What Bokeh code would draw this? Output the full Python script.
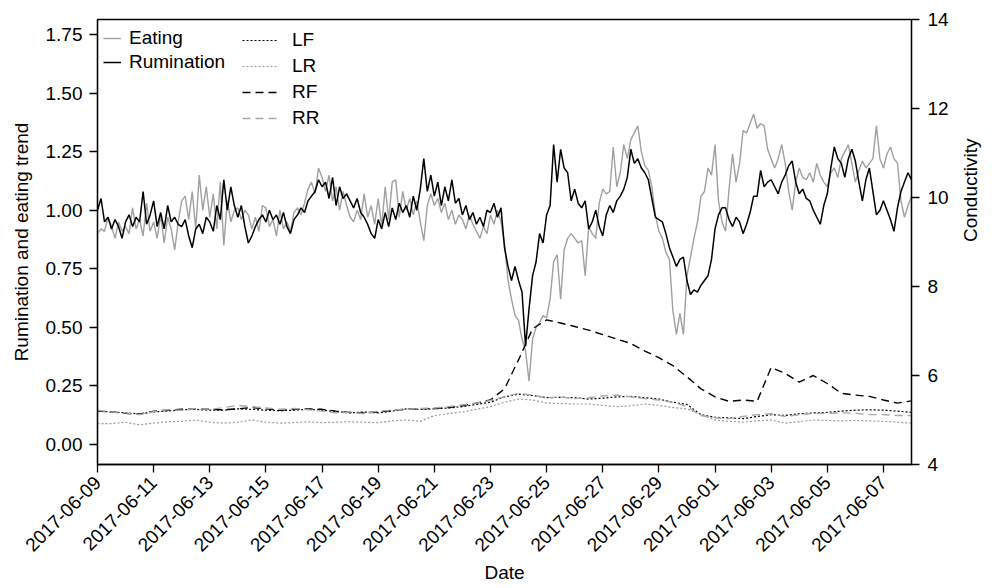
import math
import numpy as np
from bokeh.plotting import figure
from bokeh.models import (Range1d, LinearAxis, FixedTicker, Legend, LegendItem,
                          PrintfTickFormatter)
from bokeh.embed import file_html
from bokeh.resources import INLINE

FONT = "Liberation Sans"
FS = "19px"

# x axis: days after 2017-06-09, labelled every second day
tick_days = [0, 2, 4, 6, 8, 10, 12, 14, 16, 18, 20, 22, 24, 26, 28]
tick_labels = ["2017-06-09", "2017-06-11", "2017-06-13", "2017-06-15", "2017-06-17",
               "2017-06-19", "2017-06-21", "2017-06-23", "2017-06-25", "2017-06-27",
               "2017-06-29", "2017-06-01", "2017-06-03", "2017-06-05", "2017-06-07"]

# rumination / eating trends, 3-hourly samples (8 per day), left axis
rumination = [
    1.00, 1.05, 0.95, 0.97, 0.92, 0.96, 0.93, 0.88,
    0.95, 0.98, 0.93, 0.97, 0.95, 1.08, 0.94, 0.98,
    1.04, 0.93, 0.99, 0.92, 1.02, 0.95, 0.97, 0.94,
    0.93, 0.96, 0.89, 0.84, 0.92, 0.94, 0.90, 0.97,
    0.95, 0.91, 1.02, 0.96, 1.13, 1.00, 1.10, 1.02,
    0.97, 1.02, 0.93, 0.86, 0.89, 0.93, 0.96, 0.98,
    0.95, 1.00, 0.96, 0.98, 0.94, 0.99, 0.93, 0.90,
    0.96, 0.98, 1.01, 0.99, 1.04, 1.06, 1.08, 1.13,
    1.10, 1.12, 1.05, 1.14, 1.02, 1.10, 1.05, 1.07,
    1.04, 1.01, 1.05, 0.99, 0.97, 0.94, 0.90, 0.88,
    0.96, 0.92, 0.99, 0.93, 1.01, 0.96, 1.03, 0.99,
    1.02, 0.97, 1.06, 1.00, 1.09, 1.22, 1.08, 1.15,
    1.06, 1.12, 1.02, 1.10, 1.04, 1.13, 1.03, 1.05,
    0.98, 1.02, 0.96, 0.99, 0.94, 0.97, 0.93, 1.00,
    0.99, 1.03, 0.97, 1.01, 0.84, 0.76, 0.70, 0.76,
    0.70, 0.65, 0.42, 0.58, 0.72, 0.78, 0.90, 0.86,
    0.98, 1.02, 1.28, 1.12, 1.26, 1.18, 1.16, 1.04,
    1.09, 1.03, 1.01, 1.04, 0.92, 0.95, 1.00, 0.93,
    0.89, 0.98, 1.02, 0.99, 1.04, 1.06, 1.09, 1.14,
    1.26, 1.20, 1.22, 1.18, 1.16, 1.13, 1.05, 0.97,
    0.96, 0.95, 0.90, 0.84, 0.80, 0.76, 0.79, 0.80,
    0.70, 0.64, 0.66, 0.65, 0.68, 0.70, 0.72, 0.79,
    0.92, 0.98, 1.01, 1.01, 0.96, 0.93, 0.97, 0.95,
    0.90, 0.94, 0.99, 1.06, 1.06, 1.17, 1.10, 1.12,
    1.13, 1.10, 1.07, 1.12, 1.15, 1.19, 1.21, 1.12,
    1.07, 1.09, 1.05, 1.04, 1.00, 0.97, 0.94, 1.02,
    1.07, 1.18, 1.27, 1.22, 1.20, 1.14, 1.22, 1.26,
    1.21, 1.12, 1.04, 1.13, 1.18, 1.08, 0.98, 1.00,
    1.04, 1.00, 0.96, 0.91, 1.01, 1.08, 1.12, 1.16,
    1.13,
]
eating = [
    0.90, 0.92, 0.91, 0.97, 0.93, 0.88, 0.95, 0.91,
    0.93, 0.90, 1.01, 0.92, 0.96, 0.89, 1.03, 0.91,
    0.95, 0.88, 0.98, 0.86, 0.97, 0.92, 0.83, 0.95,
    1.04, 1.06, 0.96, 1.08, 0.92, 1.15, 1.00, 1.10,
    0.97, 1.07, 0.92, 1.12, 0.85, 1.04, 0.95, 1.00,
    1.01, 0.96, 1.00, 0.98, 0.92, 0.97, 0.91, 1.02,
    1.01, 0.93, 0.96, 0.89, 1.00, 0.92, 0.95, 0.91,
    0.99, 1.01, 0.98, 1.03, 1.09, 1.12, 1.07, 1.18,
    1.14, 1.08, 1.15, 1.04, 1.10, 1.00, 1.08, 1.02,
    0.97, 0.95, 1.00, 0.96, 1.07, 0.97, 1.02, 0.94,
    1.05, 0.93, 1.10, 0.96, 1.12, 1.13, 0.97, 1.08,
    1.00, 1.05, 0.98, 1.04, 0.95, 0.87, 1.02, 1.07,
    1.02, 1.05, 0.99, 1.03, 0.96, 1.00, 0.94, 0.98,
    0.96, 0.92, 0.98, 0.94, 0.91, 0.88, 0.93, 0.90,
    0.98, 0.94, 1.00, 0.95, 0.86, 0.70, 0.62, 0.55,
    0.53, 0.45, 0.40, 0.27, 0.45, 0.50, 0.52, 0.55,
    0.54, 0.62, 0.78, 0.81, 0.62, 0.83, 0.88, 0.90,
    0.88, 0.86, 0.87, 0.72, 0.93, 0.90, 0.88, 1.03,
    1.09, 1.07, 1.08, 1.27, 1.10, 1.16, 1.28, 1.22,
    1.30, 1.33, 1.36, 1.25, 1.19, 1.17, 1.10, 0.98,
    0.91, 0.88, 0.82, 0.79, 0.57, 0.47, 0.56, 0.47,
    0.72, 0.80, 0.88, 0.95, 1.06, 1.08, 1.18, 1.15,
    1.28, 1.04, 0.95, 0.91, 1.09, 1.24, 1.12, 1.20,
    1.34, 1.33, 1.37, 1.41, 1.35, 1.37, 1.36, 1.26,
    1.22, 1.18, 1.22, 1.28, 1.20, 1.08, 1.00, 1.12,
    1.18, 1.14, 1.13, 1.16, 1.12, 1.20, 1.15, 1.12,
    1.10, 1.16, 1.18, 1.14, 1.22, 1.25, 1.28, 1.20,
    1.12, 1.17, 1.21, 1.18, 1.20, 1.22, 1.36, 1.22,
    1.18, 1.24, 1.27, 1.22, 1.20, 1.04, 0.97, 1.02,
    1.06,
]

# quarter conductivity, twice-daily samples, right axis
lf = [5.20, 5.18, 5.16, 5.14, 5.18, 5.20, 5.23, 5.24, 5.22, 5.22,
      5.25, 5.24, 5.22, 5.21, 5.22, 5.24, 5.22, 5.19, 5.16, 5.18,
      5.16, 5.20, 5.25, 5.24, 5.25, 5.27, 5.30, 5.35, 5.40, 5.52,
      5.58, 5.55, 5.50, 5.51, 5.50, 5.47, 5.49, 5.52, 5.53, 5.50,
      5.47, 5.40, 5.35, 5.12, 5.06, 5.05, 5.03, 5.08, 5.12, 5.10,
      5.14, 5.16, 5.17, 5.20, 5.22, 5.23, 5.22, 5.20, 5.17]
lr = [4.92, 4.92, 4.95, 4.89, 4.93, 4.96, 4.97, 5.00, 4.95, 4.93,
      4.95, 5.00, 4.95, 4.93, 4.94, 4.96, 4.94, 4.95, 4.96, 4.95,
      4.94, 4.98, 5.00, 4.97, 5.10, 5.14, 5.18, 5.24, 5.30, 5.40,
      5.47, 5.45, 5.38, 5.37, 5.36, 5.36, 5.33, 5.30, 5.32, 5.36,
      5.33, 5.28, 5.25, 5.12, 5.00, 4.97, 4.95, 4.98, 5.00, 4.93,
      4.96, 5.00, 4.99, 4.98, 4.99, 4.98, 4.97, 4.95, 4.93]
rf = [5.20, 5.18, 5.15, 5.13, 5.20, 5.22, 5.24, 5.25, 5.24, 5.23,
      5.25, 5.28, 5.25, 5.22, 5.24, 5.25, 5.24, 5.20, 5.17, 5.16,
      5.18, 5.22, 5.24, 5.25, 5.26, 5.28, 5.32, 5.38, 5.45, 5.70,
      6.35, 7.05, 7.25, 7.18, 7.10, 7.02, 6.92, 6.82, 6.72, 6.55,
      6.40, 6.22, 5.97, 5.70, 5.52, 5.42, 5.45, 5.42, 6.18, 6.05,
      5.85, 6.00, 5.82, 5.60, 5.56, 5.53, 5.45, 5.38, 5.43]
rr = [5.22, 5.18, 5.16, 5.12, 5.19, 5.23, 5.22, 5.26, 5.24, 5.28,
      5.33, 5.30, 5.27, 5.24, 5.26, 5.23, 5.20, 5.16, 5.18, 5.14,
      5.20, 5.22, 5.24, 5.26, 5.27, 5.30, 5.34, 5.38, 5.44, 5.52,
      5.60, 5.56, 5.50, 5.52, 5.48, 5.50, 5.54, 5.56, 5.52, 5.48,
      5.45, 5.40, 5.30, 5.10, 5.05, 5.03, 5.08, 5.12, 5.14, 5.08,
      5.12, 5.15, 5.15, 5.16, 5.15, 5.12, 5.12, 5.10, 5.10]

trend_days = np.arange(len(rumination)) / 8.0
cond_days = np.arange(len(lf)) / 2.0

p = figure(width=994, height=588, output_backend="svg", toolbar_location=None,
           x_range=Range1d(0, 29), y_range=Range1d(-0.0854, 1.814),
           min_border_left=97, min_border_right=81, min_border_top=19,
           min_border_bottom=124, background_fill_color="white",
           border_fill_color="white")
p.extra_y_ranges = {"cond": Range1d(4, 14)}
p.xgrid.visible = False
p.ygrid.visible = False
p.outline_line_color = "black"
p.outline_line_width = 1.3
p.outline_line_alpha = 1.0


def style_axis(ax):
    ax.axis_line_color = "black"
    ax.axis_line_width = 1.3
    ax.major_tick_line_color = "black"
    ax.major_tick_line_width = 1.3
    ax.major_tick_out = 8
    ax.major_tick_in = 0
    ax.minor_tick_line_color = None
    ax.major_label_text_font = FONT
    ax.major_label_text_font_size = FS
    ax.major_label_text_color = "black"
    ax.axis_label_text_font = FONT
    ax.axis_label_text_font_size = FS
    ax.axis_label_text_font_style = "normal"
    ax.axis_label_text_color = "black"


xa = p.xaxis[0]
style_axis(xa)
xa.ticker = FixedTicker(ticks=tick_days)
xa.major_label_overrides = {d: lab for d, lab in zip(tick_days, tick_labels)}
xa.major_label_orientation = math.pi / 4
xa.major_label_standoff = 7
xa.axis_label = "Date"
xa.axis_label_standoff = 2

ya = p.yaxis[0]
style_axis(ya)
ya.ticker = FixedTicker(ticks=[0, 0.25, 0.5, 0.75, 1.0, 1.25, 1.5, 1.75])
ya.formatter = PrintfTickFormatter(format="%.2f")
ya.major_label_standoff = 7
ya.axis_label = "Rumination and eating trend"
ya.axis_label_standoff = 11

ra = LinearAxis(y_range_name="cond", ticker=FixedTicker(ticks=[4, 6, 8, 10, 12, 14]),
                axis_label="Conductivity")
style_axis(ra)
ra.major_label_standoff = 8
ra.axis_label_standoff = 19
ra.axis_label_orientation = math.pi / 2
p.add_layout(ra, "right")

# trend lines (left axis)
r_eat = p.line(trend_days, eating, line_color="#a0a0a0", line_width=1.4)
r_rum = p.line(trend_days, rumination, line_color="black", line_width=1.5)

# conductivity lines (right axis)
r_lf = p.line(cond_days, lf, y_range_name="cond", line_color="black",
              line_width=1.2, line_dash="2 2")
r_lr = p.line(cond_days, lr, y_range_name="cond", line_color="#9a9a9a",
              line_width=1.2, line_dash="2 2")
r_rf = p.line(cond_days, rf, y_range_name="cond", line_color="black",
              line_width=1.4, line_dash="8 5")
r_rr = p.line(cond_days, rr, y_range_name="cond", line_color="#a8a8a8",
              line_width=1.4, line_dash="8 5")


def make_legend(items, loc, glyph_w, standoff, row_h):
    return Legend(items=items, location=loc, glyph_width=glyph_w,
                  glyph_height=row_h, label_height=row_h, label_standoff=standoff,
                  spacing=0, padding=0, margin=0,
                  label_text_font=FONT, label_text_font_size=FS,
                  label_text_color="black", border_line_color=None,
                  background_fill_alpha=0.0)


leg_trend = make_legend([LegendItem(label="Eating", renderers=[r_eat]),
                         LegendItem(label="Rumination", renderers=[r_rum])],
                        (6, 390), 18, 8, 24)
leg_cond = make_legend([LegendItem(label="LF", renderers=[r_lf]),
                        LegendItem(label="LR", renderers=[r_lr]),
                        LegendItem(label="RF", renderers=[r_rf]),
                        LegendItem(label="RR", renderers=[r_rr])],
                       (145, 333), 35, 15, 26)
p.add_layout(leg_trend, "center")
p.add_layout(leg_cond, "center")

open("out.html", "w").write(file_html(p, INLINE))
